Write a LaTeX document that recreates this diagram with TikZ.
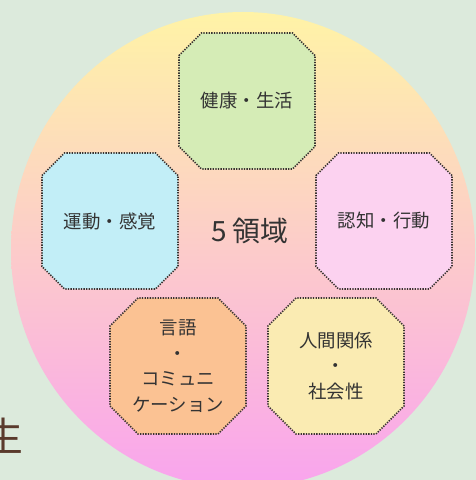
\documentclass[tikz,border=0pt]{standalone}
\usepackage{fontspec}
\setmainfont{Noto Sans CJK JP}
\usetikzlibrary{shapes.misc,positioning}

\definecolor{bgcol}{HTML}{DCEADC}
\definecolor{topcol}{HTML}{FFF3A6}
\definecolor{midcol}{HTML}{FDD8C6}
\definecolor{botcol}{HTML}{F9A4EE}
\definecolor{dotcol}{HTML}{3A3432}
\definecolor{txtcol}{HTML}{333333}
\definecolor{headcol}{HTML}{5A3A2C}
\definecolor{healthcol}{HTML}{D5ECB6}
\definecolor{motorcol}{HTML}{C2EEF7}
\definecolor{cogcol}{HTML}{FCD2F0}
\definecolor{langcol}{HTML}{FBC293}
\definecolor{socialcol}{HTML}{FAEBB2}

\begin{document}
\begin{tikzpicture}[x=1bp,y=-1bp,
  areabox/.style={chamfered rectangle, chamfered rectangle xsep=14bp, chamfered rectangle ysep=14bp,
    draw=dotcol, line width=1.6bp, dash pattern=on 1.3bp off 1.3bp,
    minimum width=136bp, minimum height=136bp, inner sep=0pt, align=center,
    text=txtcol, font=\fontsize{18.5}{25.5}\selectfont},
]

\useasboundingbox (0,0) rectangle (476,480);
\fill[bgcol] (0,0) rectangle (476,480);

\begin{scope}
\clip (0,0) rectangle (476,480);
\shade[top color=topcol, middle color=midcol, bottom color=botcol]
  (243,250) ellipse [x radius=232, y radius=238];
\node[anchor=base, inner sep=0pt, text=headcol, font=\fontsize{40}{40}\selectfont] (head) at (3,451) {生};
\end{scope}

\node[areabox, fill=healthcol] (health) at (247,101) {健康・生活};
\node[areabox, fill=motorcol] (motor) at (110,221) {運動・感覚};
\node[areabox, fill=cogcol] (cognition) at (384,221) {認知・行動};
\node[areabox, fill=langcol] (language) at (178,366) {言語\\・\\コミュニ\\ケーション};
\node[areabox, fill=socialcol] (social) at (336,366) {人間関係\\・\\社会性};

\node[text=txtcol, font=\fontsize{28}{28}\selectfont] (title) at (250,231) {5 領域};

\end{tikzpicture}
\end{document}
